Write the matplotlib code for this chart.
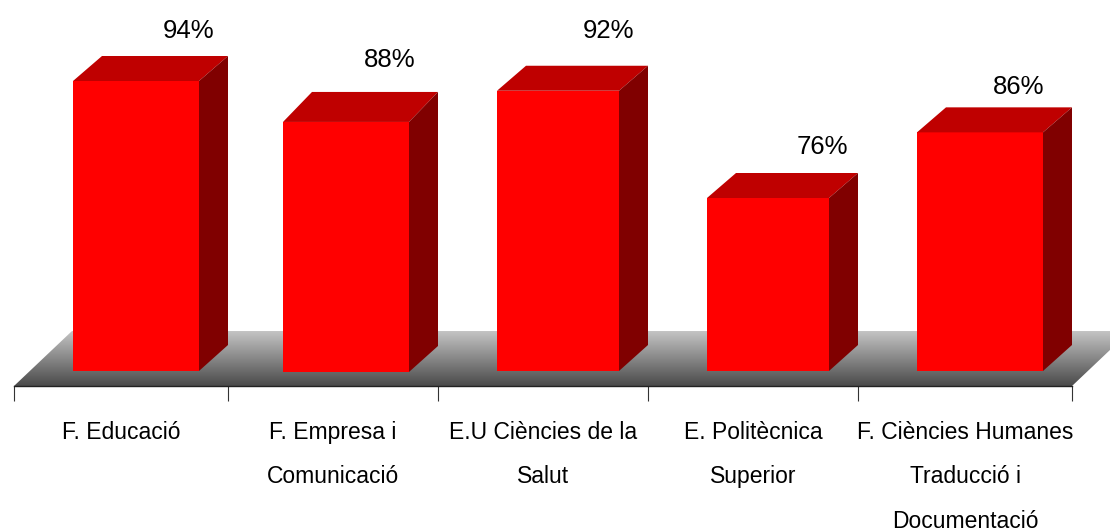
import numpy as np
import matplotlib
matplotlib.use("Agg")
import matplotlib.pyplot as plt
from matplotlib.colors import LinearSegmentedColormap
from matplotlib.patches import Polygon

# Data
categories = ["F. Educació", "F. Empresa i\nComunicació", "E.U Ciències de la\nSalut",
              "E. Politècnica\nSuperior", "F. Ciències Humanes\nTraducció i\nDocumentació"]
values = [94.0, 87.7, 92.5, 76.0, 86.1]

# Layout, in pixels
W, H = 1110, 532
px_per_pct = 6.5
axis_left, axis_right, axis_y = 14, 1072, 386
tick_px = [14, 228, 438, 648, 858, 1072]
bar_left = [73, 283, 497, 707, 917]
bar_widths = [126, 126, 122, 122, 126]
bar_base_px = [371, 372, 371, 371, 371]
depth_x = 29
depth_top = [25, 30, 25, 25, 25]
depth_bottom = 26
label_x = [189, 390, 608, 822, 1019]
label_gap = [25, 32, 35, 26, 20]

plt.rcParams['font.family'] = ['Liberation Sans', 'DejaVu Sans']

fig = plt.figure(figsize=(W / 100, H / 100), dpi=100)
ax = fig.add_axes([axis_left / W, (H - axis_y) / H, (axis_right - axis_left) / W, axis_y / H])
# x axis runs in pixels so the uneven bar spacing can be kept, y axis in percent
ymin = 94 - (axis_y - 81) / px_per_pct
ymax = ymin + axis_y / px_per_pct
ax.set_xlim(axis_left, axis_right)
ax.set_ylim(ymin, ymax)
ax.patch.set_alpha(0)


def px_to_pct(y_px):
    return ymin + (axis_y - y_px) / px_per_pct


# Grey floor with vertical gradient
floor_back = px_to_pct(331)
floor_slant = 58
gradient = np.linspace(0, 1, 256).reshape(-1, 1)
floor_cmap = LinearSegmentedColormap.from_list('floor', ['#4a4a4a', '#c4c4c4'])
floor = ax.imshow(gradient, extent=(axis_left, axis_right + floor_slant, ymin, floor_back),
                  origin='lower', aspect='auto', cmap=floor_cmap, zorder=1)
floor_poly = Polygon([(axis_left, ymin), (axis_left + floor_slant, floor_back),
                      (axis_right + floor_slant, floor_back), (axis_right, ymin)],
                     transform=ax.transData, closed=True, facecolor='none', edgecolor='none')
ax.add_patch(floor_poly)
floor.set_clip_box(fig.bbox)
floor.set_clip_path(floor_poly)
ax.set_xlim(axis_left, axis_right)
ax.set_ylim(ymin, ymax)

# 3D bars
dy_bottom = depth_bottom / px_per_pct
for i, v in enumerate(values):
    l = bar_left[i]
    r = l + bar_widths[i]
    base = px_to_pct(bar_base_px[i])
    dy = depth_top[i] / px_per_pct
    ax.bar(l, v - base, width=bar_widths[i], bottom=base, align='edge', color='#ff0000', zorder=3, clip_on=False)
    ax.fill([l, r, r + depth_x, l + depth_x], [v, v, v + dy, v + dy],
            color='#bf0000', lw=0, zorder=3, clip_on=False)
    ax.fill([r, r + depth_x, r + depth_x, r], [base, base + dy_bottom, v + dy, v],
            color='#800000', lw=0, zorder=3, clip_on=False)
    ax.text(label_x[i], v + dy + label_gap[i] / px_per_pct, "%d%%" % round(v),
            ha='center', va='center', fontsize=18.5, color='black', zorder=4, clip_on=False)

# Category axis
for side in ['top', 'left', 'right']:
    ax.spines[side].set_visible(False)
ax.spines['bottom'].set_linewidth(1.0)
ax.spines['bottom'].set_color('#222222')
ax.spines['bottom'].set_zorder(5)
ax.set_yticks([])
ax.set_xticks(tick_px)
ax.set_xticklabels([])
ax.tick_params(axis='x', which='major', length=10.8, width=0.8, color='#333333')
centers = [(a + b) / 2 for a, b in zip(tick_px[:-1], tick_px[1:])]
ax.set_xticks(centers, minor=True)
ax.set_xticklabels(categories, minor=True, fontsize=16.5, linespacing=2.2, va='top')
ax.tick_params(axis='x', which='minor', length=0, pad=25)

fig.savefig("out.png", dpi=100)
